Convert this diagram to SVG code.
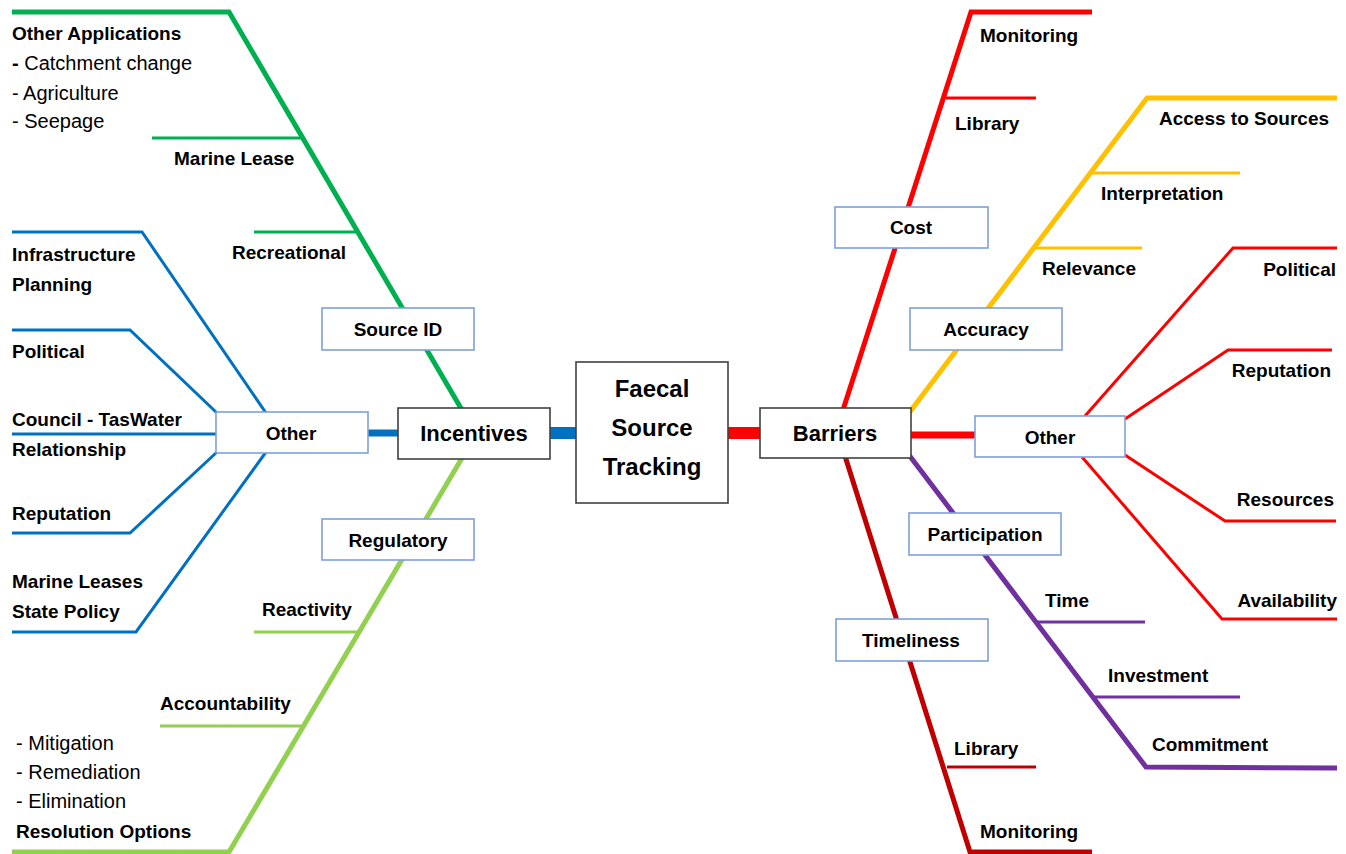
<svg xmlns="http://www.w3.org/2000/svg" width="1346" height="854" viewBox="0 0 1346 854">
<style>
text{font-family:"Liberation Sans",Arial,sans-serif;fill:#000}
.b{font-weight:bold;font-size:19px}
.r{font-size:20px}
.c{font-weight:bold;font-size:22px;text-anchor:middle}
.m{text-anchor:middle}
.e{text-anchor:end}
.ln{fill:none;stroke-linejoin:miter;stroke-linecap:butt}
.main{fill:#fff;stroke:#404040;stroke-width:1.6}
.sub{fill:#fff;stroke:#7f9fdc;stroke-width:1.6}
</style>
<rect width="1346" height="854" fill="#fff"/>
<g id="connectors">
  <polyline class="ln" points="12,12 229,12 462,410" stroke="#00b050" stroke-width="5"/>
  <line x1="152" y1="138" x2="302" y2="138" stroke="#00b050" stroke-width="3"/>
  <line x1="254" y1="232" x2="357" y2="232" stroke="#00b050" stroke-width="3"/>
  <polyline class="ln" points="462,458 229,852 12,852" stroke="#92d050" stroke-width="5"/>
  <line x1="254" y1="632" x2="359" y2="632" stroke="#92d050" stroke-width="3"/>
  <line x1="160" y1="726" x2="304" y2="726" stroke="#92d050" stroke-width="3"/>
  <polyline class="ln" points="12,232 142,232 266,413" stroke="#0070c0" stroke-width="3"/>
  <polyline class="ln" points="12,330 130,330 217,413" stroke="#0070c0" stroke-width="3"/>
  <line x1="12" y1="434" x2="216" y2="434" stroke="#0070c0" stroke-width="3"/>
  <polyline class="ln" points="217,452 130,533 12,533" stroke="#0070c0" stroke-width="3"/>
  <polyline class="ln" points="266,452 136,632 12,632" stroke="#0070c0" stroke-width="3"/>
  <line x1="368" y1="433" x2="398" y2="433" stroke="#0070c0" stroke-width="7"/>
  <line x1="550" y1="433" x2="576" y2="433" stroke="#0070c0" stroke-width="12"/>
  <line x1="728" y1="433" x2="760" y2="433" stroke="#ff0000" stroke-width="12"/>
  <line x1="911" y1="435" x2="975" y2="435" stroke="#ff0000" stroke-width="7"/>
  <polyline class="ln" points="843,410 971,12 1092,12" stroke="#ff0000" stroke-width="5"/>
  <line x1="946" y1="98" x2="1036" y2="98" stroke="#ff0000" stroke-width="3"/>
  <polyline class="ln" points="909,413 1147,98 1337,98" stroke="#ffc000" stroke-width="5"/>
  <line x1="1092" y1="173" x2="1240" y2="173" stroke="#ffc000" stroke-width="3"/>
  <line x1="1036" y1="248" x2="1142" y2="248" stroke="#ffc000" stroke-width="3"/>
  <polyline class="ln" points="1085,416 1233,248 1337,248" stroke="#ff0000" stroke-width="3"/>
  <polyline class="ln" points="1125,419 1228,350 1332,350" stroke="#ff0000" stroke-width="3"/>
  <polyline class="ln" points="1125,455 1225,521 1336,521" stroke="#ff0000" stroke-width="3"/>
  <polyline class="ln" points="1082,457 1222,619 1337,619" stroke="#ff0000" stroke-width="3"/>
  <polyline class="ln" points="909,455 1146,767 1337,768" stroke="#7030a0" stroke-width="5"/>
  <line x1="1037" y1="622" x2="1145" y2="622" stroke="#7030a0" stroke-width="3"/>
  <line x1="1093" y1="697" x2="1240" y2="697" stroke="#7030a0" stroke-width="3"/>
  <polyline class="ln" points="845,456 970,852 1092,852" stroke="#c00000" stroke-width="5"/>
  <line x1="947" y1="767" x2="1036" y2="767" stroke="#c00000" stroke-width="3"/>
</g>
<g id="n-center"><rect class="main" x="576" y="362" width="152" height="141"/>
  <text class="c" x="652" y="397" style="font-size:24px">Faecal</text>
  <text class="c" x="652" y="436" style="font-size:24px">Source</text>
  <text class="c" x="652" y="475" style="font-size:24px">Tracking</text></g>
<g id="n-incentives"><rect class="main" x="398" y="408" width="152" height="51"/><text class="c" x="474" y="441">Incentives</text></g>
<g id="n-barriers"><rect class="main" x="760" y="408" width="151" height="50"/><text class="c" x="835" y="441">Barriers</text></g>
<g id="n-sourceid"><rect class="sub" x="322" y="308" width="152" height="42"/><text class="b m" x="398" y="336">Source ID</text></g>
<g id="n-regulatory"><rect class="sub" x="322" y="519" width="152" height="41"/><text class="b m" x="398" y="547">Regulatory</text></g>
<g id="n-other-left"><rect class="sub" x="216" y="412" width="152" height="41"/><text class="b m" x="291" y="440">Other</text></g>
<g id="n-cost"><rect class="sub" x="835" y="207" width="153" height="41"/><text class="b m" x="911" y="234">Cost</text></g>
<g id="n-accuracy"><rect class="sub" x="910" y="308" width="152" height="42"/><text class="b m" x="986" y="336">Accuracy</text></g>
<g id="n-other-right"><rect class="sub" x="975" y="416" width="150" height="41"/><text class="b m" x="1050" y="444">Other</text></g>
<g id="n-participation"><rect class="sub" x="909" y="513" width="152" height="42"/><text class="b m" x="985" y="541">Participation</text></g>
<g id="n-timeliness"><rect class="sub" x="836" y="619" width="152" height="42"/><text class="b m" x="911" y="647">Timeliness</text></g>
<g id="n-other-applications">
  <text class="b" x="12" y="40">Other Applications</text>
  <text class="r" x="12" y="70"><tspan font-weight="bold">-</tspan> Catchment change</text>
  <text class="r" x="12" y="100">- Agriculture</text>
  <text class="r" x="12" y="128">- Seepage</text>
</g>
<g id="n-marinelease"><text class="b" x="174" y="165">Marine Lease</text></g>
<g id="n-recreational"><text class="b" x="232" y="259">Recreational</text></g>
<g id="n-infrastructure"><text class="b" x="12" y="261">Infrastructure</text><text class="b" x="12" y="291">Planning</text></g>
<g id="n-political-left"><text class="b" x="12" y="358">Political</text></g>
<g id="n-council"><text class="b" x="12" y="426">Council - TasWater</text><text class="b" x="12" y="456">Relationship</text></g>
<g id="n-reputation-left"><text class="b" x="12" y="520">Reputation</text></g>
<g id="n-marineleases"><text class="b" x="12" y="588">Marine Leases</text><text class="b" x="12" y="618">State Policy</text></g>
<g id="n-reactivity"><text class="b" x="262" y="616">Reactivity</text></g>
<g id="n-accountability"><text class="b" x="160" y="710">Accountability</text></g>
<g id="n-resolution">
  <text class="r" x="16" y="750">- Mitigation</text>
  <text class="r" x="16" y="779">- Remediation</text>
  <text class="r" x="16" y="808">- Elimination</text>
  <text class="b" x="16" y="838">Resolution Options</text>
</g>
<g id="n-monitoring-top"><text class="b" x="980" y="42">Monitoring</text></g>
<g id="n-library-top"><text class="b" x="955" y="130">Library</text></g>
<g id="n-access"><text class="b" x="1159" y="125">Access to Sources</text></g>
<g id="n-interpretation"><text class="b" x="1101" y="200">Interpretation</text></g>
<g id="n-relevance"><text class="b" x="1042" y="275">Relevance</text></g>
<g id="n-political-right"><text class="b e" x="1336" y="276">Political</text></g>
<g id="n-reputation-right"><text class="b e" x="1331" y="377">Reputation</text></g>
<g id="n-resources"><text class="b e" x="1334" y="506">Resources</text></g>
<g id="n-availability"><text class="b e" x="1337" y="607">Availability</text></g>
<g id="n-time"><text class="b" x="1045" y="607">Time</text></g>
<g id="n-investment"><text class="b" x="1108" y="682">Investment</text></g>
<g id="n-commitment"><text class="b" x="1152" y="751">Commitment</text></g>
<g id="n-library-bottom"><text class="b" x="954" y="755">Library</text></g>
<g id="n-monitoring-bottom"><text class="b" x="980" y="838">Monitoring</text></g>
</svg>
